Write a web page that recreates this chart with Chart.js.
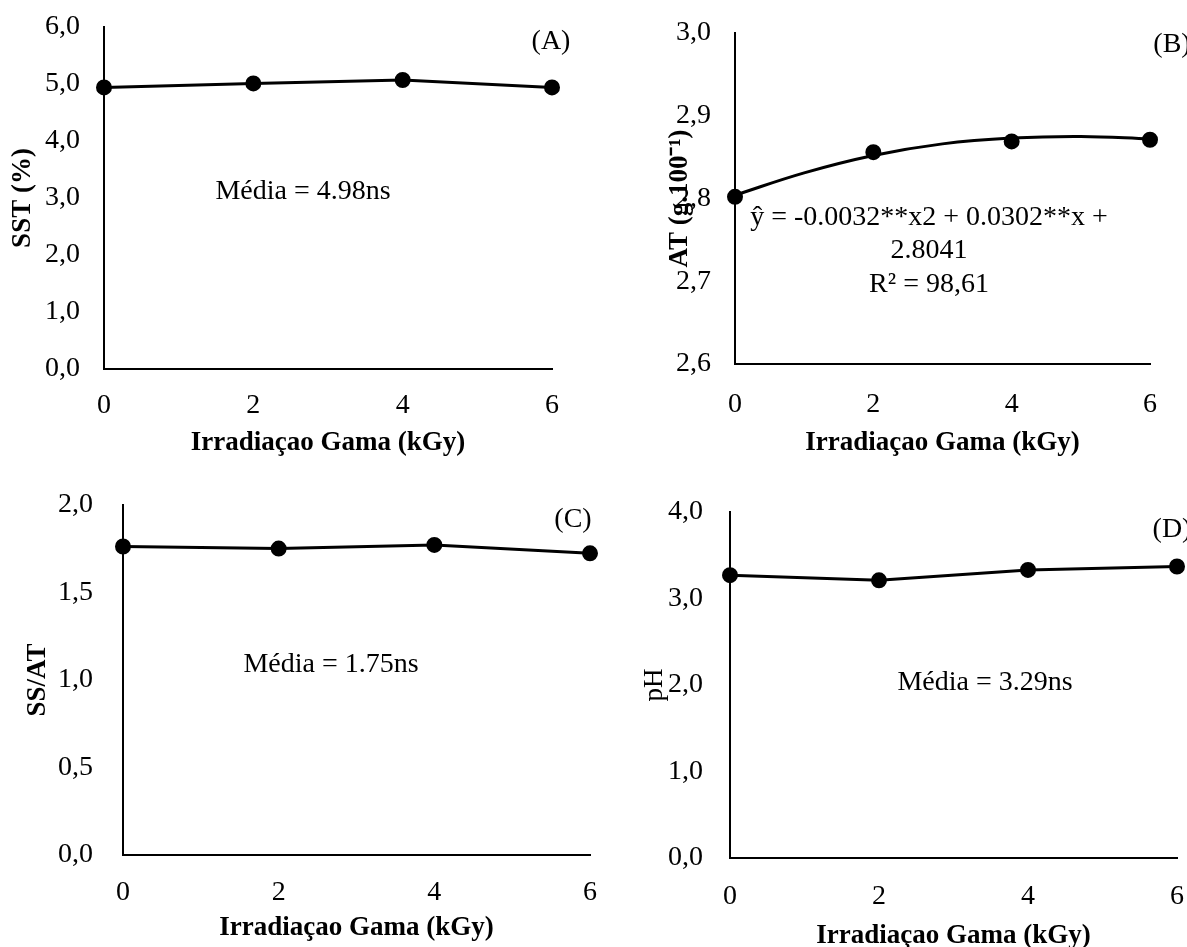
<!DOCTYPE html>
<html lang="pt">
    <head>
        <meta charset="utf-8" />
        <script src="https://cdn.jsdelivr.net/npm/chart.js@4.4.1/dist/chart.umd.min.js"></script>
        <title>Irradiação gama</title>
        <style>
            body { margin: 0; background: #fff; }
            .painel { position: absolute; }
        </style>
    </head>
    <body>
        <div class="painel" style="left:0;top:0"><canvas id="grafA" width="600" height="470"></canvas></div>
        <div class="painel" style="left:600px;top:0"><canvas id="grafB" width="587" height="470"></canvas></div>
        <div class="painel" style="left:0;top:470px"><canvas id="grafC" width="600" height="477"></canvas></div>
        <div class="painel" style="left:600px;top:470px"><canvas id="grafD" width="587" height="477"></canvas></div>
        <script>
            // doses de irradiação (kGy)
            var doses = [0, 2, 4, 6];
            var xTicks = ["0", "2", "4", "6"];

            // (A) SST
            var sst = [4.94, 5.01, 5.07, 4.94];
            var yTicksA = ["0,0", "1,0", "2,0", "3,0", "4,0", "5,0", "6,0"];
            // (B) AT - pontos e curva de tendência
            var at = [2.802, 2.856, 2.869, 2.871];
            var dosesCurva = [0, 1, 2, 3, 4, 5, 6];
            var atCurva = [2.804, 2.831, 2.852, 2.866, 2.873, 2.875, 2.872];
            var yTicksB = ["2,6", "2,7", "2,8", "2,9", "3,0"];
            // (C) SS/AT
            var ssat = [1.763, 1.751, 1.772, 1.724];
            var yTicksC = ["0,0", "0,5", "1,0", "1,5", "2,0"];
            // (D) pH
            var ph = [3.27, 3.21, 3.33, 3.37];
            var yTicksD = ["0,0", "1,0", "2,0", "3,0", "4,0"];

            var fonte = "'Liberation Serif', 'Times New Roman', serif";
            Chart.defaults.font.family = fonte;
            Chart.defaults.color = "#000";

            function pares(xs, ys) {
                return xs.map((x, i) => ({ x: x, y: ys[i] }));
            }
            function num(s) {
                return parseFloat(s.replace(",", "."));
            }

            // textos soltos desenhados por cima
            function textos(lista) {
                return {
                    id: "textos",
                    afterDraw(chart) {
                        var ctx = chart.ctx;
                        ctx.save();
                        ctx.fillStyle = "#000";
                        ctx.font = "28px " + fonte;
                        ctx.textAlign = "center";
                        ctx.textBaseline = "middle";
                        lista.forEach(t => ctx.fillText(t[0], t[1], t[2]));
                        ctx.restore();
                    },
                };
            }

            function painel(id, cfg) {
                var datasets = (cfg.extra || []).concat([
                    {
                        data: pares(doses, cfg.valores),
                        borderColor: "#000",
                        backgroundColor: "#000",
                        borderWidth: 3,
                        pointRadius: 6.5,
                        pointHoverRadius: 6.5,
                        showLine: cfg.linha,
                        clip: false,
                    },
                ]);
                new Chart(document.getElementById(id).getContext("2d"), {
                    type: "line",
                    data: { datasets: datasets },
                    options: {
                        responsive: false,
                        animation: false,
                        devicePixelRatio: 1,
                        layout: {
                            autoPadding: false,
                            padding: { left: 0, top: cfg.area.top, right: cfg.area.right, bottom: 0 },
                        },
                        plugins: { legend: { display: false }, tooltip: { enabled: false } },
                        scales: {
                            x: {
                                type: "linear",
                                min: 0,
                                max: 6,
                                grid: { display: false, drawTicks: false },
                                border: { display: true, color: "#000", width: 2 },
                                afterBuildTicks: s => { s.ticks = xTicks.map(t => ({ value: Number(t) })); },
                                afterFit: s => {
                                    s.height = cfg.area.h;
                                    s.paddingLeft = 0;
                                    s.paddingRight = 0;
                                },
                                ticks: {
                                    padding: cfg.xPad,
                                    font: { size: 28 },
                                    callback: (v, i) => xTicks[i],
                                },
                                title: {
                                    display: true,
                                    text: "Irradiaçao Gama (kGy)",
                                    font: { size: 27, weight: "bold", lineHeight: 1 },
                                    padding: { top: 0, bottom: cfg.xTitlePad },
                                },
                            },
                            y: {
                                min: num(cfg.yTicks[0]),
                                max: num(cfg.yTicks[cfg.yTicks.length - 1]),
                                grid: { display: false, drawTicks: false },
                                border: { display: true, color: "#000", width: 2 },
                                afterBuildTicks: s => { s.ticks = cfg.yTicks.map(t => ({ value: num(t) })); },
                                afterFit: s => {
                                    s.width = cfg.area.left;
                                    s.paddingTop = 0;
                                    s.paddingBottom = 0;
                                },
                                ticks: {
                                    padding: cfg.yPad,
                                    font: { size: 28 },
                                    callback: (v, i) => cfg.yTicks[i],
                                },
                                title: {
                                    display: true,
                                    text: cfg.yTitulo,
                                    font: { size: 27, weight: cfg.yBold ? "bold" : "normal", lineHeight: 1 },
                                    padding: { top: cfg.yTitlePad, bottom: 0 },
                                },
                            },
                        },
                    },
                    plugins: [textos(cfg.textos)],
                });
            }

            painel("grafA", {
                valores: sst, linha: true, yTicks: yTicksA,
                area: { left: 104, top: 27, right: 48, h: 101 },
                xPad: 20, yPad: 24, xTitlePad: 13, yTitlePad: 10,
                yTitulo: "SST (%)", yBold: true,
                textos: [["Média = 4.98ns", 303, 192], ["(A)", 551, 42]],
            });

            painel("grafB", {
                valores: at, linha: false, yTicks: yTicksB,
                area: { left: 135, top: 33, right: 37, h: 106 },
                xPad: 24, yPad: 24, xTitlePad: 13, yTitlePad: 67,
                yTitulo: "AT (g.100⁻¹)", yBold: true,
                extra: [{
                    data: pares(dosesCurva, atCurva),
                    borderColor: "#000",
                    borderWidth: 3,
                    pointRadius: 0,
                    tension: 0.4,
                    clip: false,
                }],
                textos: [
                    ["ŷ = -0.0032**x2 + 0.0302**x +", 329, 218],
                    ["2.8041", 329, 251],
                    ["R² = 98,61", 329, 285],
                    ["(B)", 572, 45],
                ],
            });

            painel("grafC", {
                valores: ssat, linha: true, yTicks: yTicksC,
                area: { left: 123, top: 35, right: 10, h: 92 },
                xPad: 21, yPad: 30, xTitlePad: 5, yTitlePad: 25,
                yTitulo: "SS/AT", yBold: true,
                textos: [["Média = 1.75ns", 331, 195], ["(C)", 573, 50]],
            });

            painel("grafD", {
                valores: ph, linha: true, yTicks: yTicksD,
                area: { left: 130, top: 42, right: 10, h: 89 },
                xPad: 22, yPad: 27, xTitlePad: -3, yTitlePad: 41,
                yTitulo: "pH", yBold: false,
                textos: [["Média = 3.29ns", 385, 213], ["(D)", 572, 60]],
            });
        </script>
    </body>
</html>
